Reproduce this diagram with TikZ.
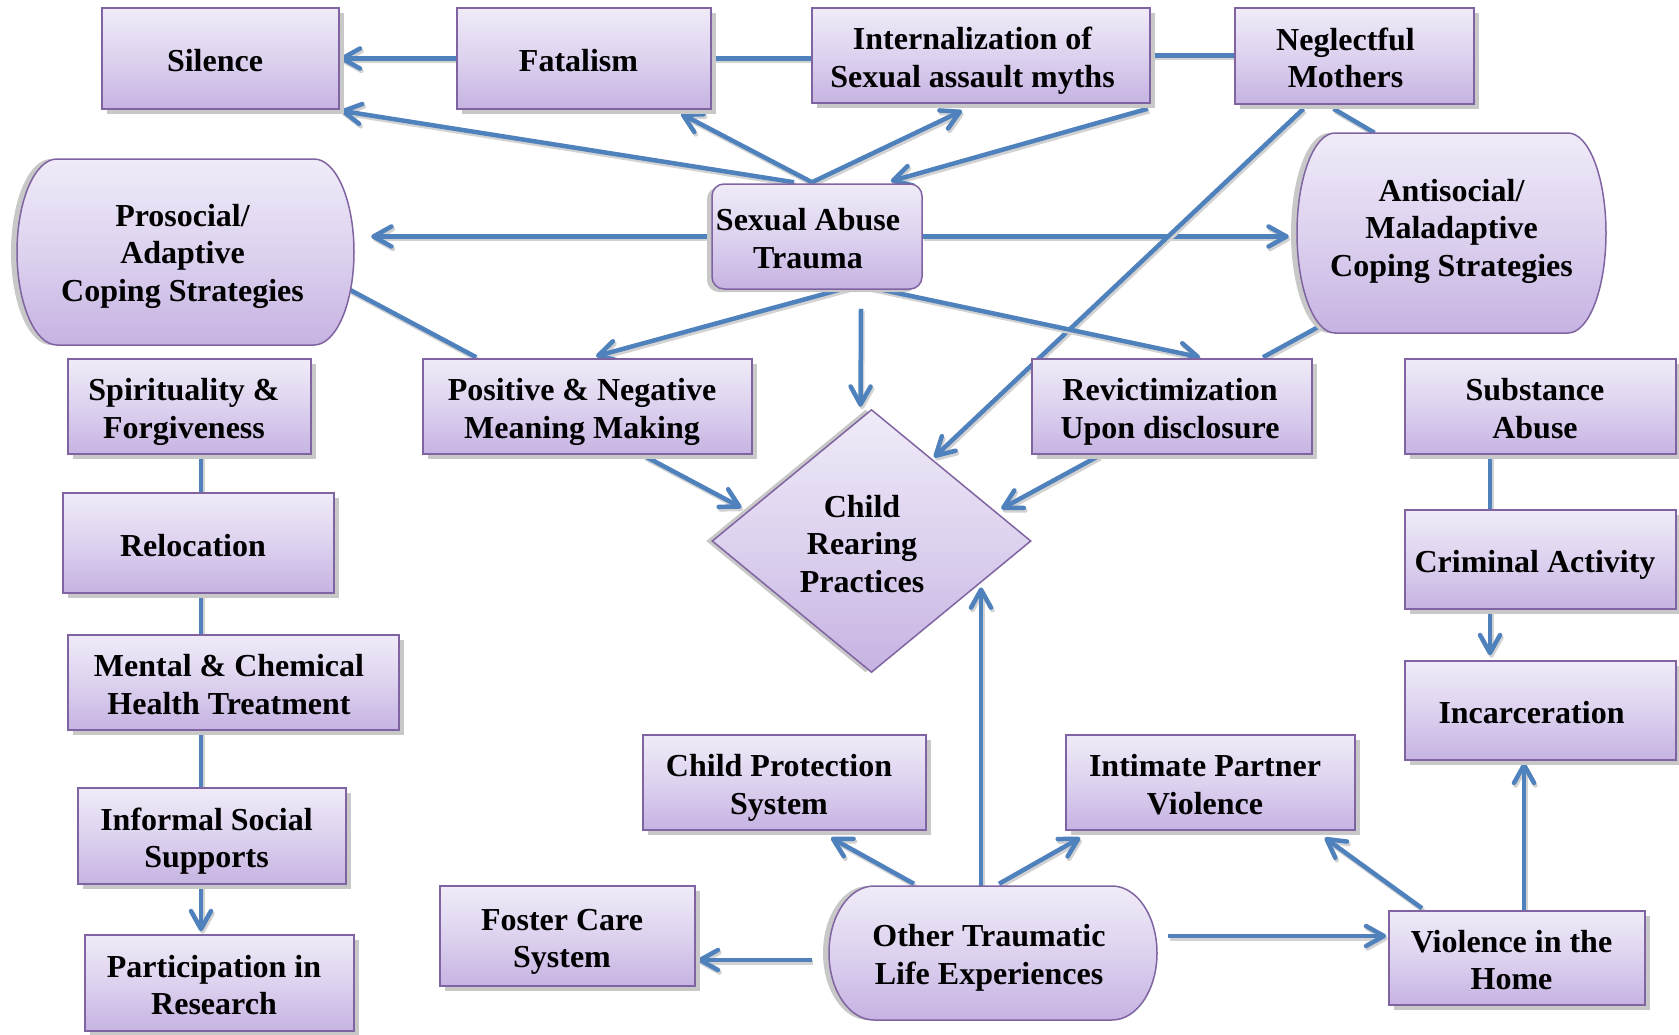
\documentclass[tikz,border=0pt]{standalone}
\usepackage{fontspec}
\setmainfont{Liberation Serif}
\usetikzlibrary{arrows.meta,shapes.geometric,shadows,calc}

\definecolor{arrowblue}{HTML}{4F81BD}
\definecolor{boxborder}{HTML}{8064A2}
\definecolor{boxtop}{HTML}{F0EBF8}
\definecolor{boxmid}{HTML}{DDD2EF}
\definecolor{boxbot}{HTML}{C6B3E2}
\definecolor{shadowgray}{HTML}{C8C8C8}
\definecolor{lineshadow}{HTML}{D2D2D2}

\pgfdeclarelayer{bg}
\pgfdeclarelayer{wires}
\pgfsetlayers{bg,wires,main}

\tikzset{
  boxtext/.style={font=\bfseries\fontsize{32}{37.5}\selectfont, align=center, text=black},
  lavender/.style={draw=boxborder, line width=1.5pt, top color=boxtop, bottom color=boxbot, middle color=boxmid},
  box/.style={lavender, boxtext, rectangle, inner sep=3pt,
    general shadow={fill=shadowgray, shadow xshift=5pt, shadow yshift=-5pt}},
  wire/.style={line width=4.5pt, draw=arrowblue,
    preaction={draw=lineshadow, line width=4.5pt, transform canvas={shift={(1.5pt,-2.5pt)}}}},
  flow/.style={wire, -{Straight Barb[length=18pt,width=20pt,round]}}
}

% centred lines with extra room on the right, lowered a little inside the box
\newcommand{\bx}[2][11pt]{\raisebox{-5.5pt}[\height][\depth]{\begin{tabular}{@{}c@{\hspace{#1}}}#2\end{tabular}}}

% capsule with elliptic ends: name, x1, y1, x2, y2, end radius, text dx, text dy, text
\newcommand{\capsule}[9]{%
  \pgfmathsetmacro\capXa{#2+#6}%
  \pgfmathsetmacro\capXb{#4-#6}%
  \pgfmathsetmacro\capYm{(#3+#5)/2}%
  \pgfmathsetmacro\capXm{(#2+#4)/2}%
  \pgfmathsetmacro\capKx{0.5523*#6}%
  \pgfmathsetmacro\capXaK{\capXa-\capKx}%
  \pgfmathsetmacro\capXbK{\capXb+\capKx}%
  \pgfmathsetmacro\capYu{\capYm-0.5523*(#5-#3)/2}%
  \pgfmathsetmacro\capYd{\capYm+0.5523*(#5-#3)/2}%
  \pgfmathsetmacro\capW{#4-#2}%
  \pgfmathsetmacro\capH{#5-#3}%
  \pgfmathsetmacro\capTx{\capXm+#7}%
  \pgfmathsetmacro\capTy{\capYm+#8}%
  \fill[shadowgray, shift={(-6,0)}] (\capXa,#3) -- (\capXb,#3)
    .. controls (\capXbK,#3) and (#4,\capYu) .. (#4,\capYm)
    .. controls (#4,\capYd) and (\capXbK,#5) .. (\capXb,#5) -- (\capXa,#5)
    .. controls (\capXaK,#5) and (#2,\capYd) .. (#2,\capYm)
    .. controls (#2,\capYu) and (\capXaK,#3) .. (\capXa,#3) -- cycle;
  \path[lavender] (\capXa,#3) -- (\capXb,#3)
    .. controls (\capXbK,#3) and (#4,\capYu) .. (#4,\capYm)
    .. controls (#4,\capYd) and (\capXbK,#5) .. (\capXb,#5) -- (\capXa,#5)
    .. controls (\capXaK,#5) and (#2,\capYd) .. (#2,\capYm)
    .. controls (#2,\capYu) and (\capXaK,#3) .. (\capXa,#3) -- cycle;
  \node[minimum width=\capW pt, minimum height=\capH pt, inner sep=0pt] (#1) at (\capXm,\capYm) {};
  \node[boxtext] (#1text) at (\capTx,\capTy) {#9};
}

\begin{document}
\begin{tikzpicture}[x=1pt, y=-1pt]
\useasboundingbox (0,0) rectangle (1679,1034);
\begin{pgfonlayer}{bg}
  \fill[white] (0,0) rectangle (1679,1034);
\end{pgfonlayer}

% top row
\node[box, minimum width=237pt, minimum height=101pt] (sil) at (220.5,58.5) {\bx{Silence}};
\node[box, minimum width=254pt, minimum height=101pt] (fat) at (584,58.5) {\bx{Fatalism}};
\node[box, minimum width=338pt, minimum height=95pt] (int) at (981,55.5) {\bx[17pt]{Internalization of\\Sexual assault myths}};
\node[box, minimum width=239pt, minimum height=96pt] (neg) at (1354.5,56) {\bx[18pt]{Neglectful\\Mothers}};

% central trauma box
\node[lavender, boxtext, rectangle, rounded corners=12pt, inner sep=2pt,
      minimum width=210pt, minimum height=105pt,
      general shadow={fill=shadowgray, shadow xshift=-5pt, shadow yshift=-3pt}]
      (sat) at (817,236.5) {\bx[18pt]{Sexual Abuse\\Trauma}};

% coping strategies
\capsule{pro}{17}{159}{354}{345}{40}{-3}{4}{Prosocial/\\Adaptive\\Coping Strategies}
\capsule{anti}{1297}{133}{1606}{333}{38}{0}{-2}{Antisocial/\\Maladaptive\\Coping Strategies}

% second row
\node[box, minimum width=243pt, minimum height=95pt] (spi) at (189.5,406.5) {\bx{Spirituality \&\\Forgiveness}};
\node[box, minimum width=329pt, minimum height=95pt] (pos) at (587.5,406.5) {\bx{Positive \& Negative\\Meaning Making}};
\node[box, minimum width=280pt, minimum height=95pt] (rev) at (1172,406.5) {\bx[4pt]{Revictimization\\Upon disclosure}};
\node[box, minimum width=271pt, minimum height=95pt] (sub) at (1540.5,406.5) {\bx{Substance\\Abuse}};

% left column
\node[box, minimum width=271pt, minimum height=100pt] (rel) at (198.5,543) {\bx{Relocation}};
\node[box, minimum width=331pt, minimum height=95pt] (men) at (233.5,682.5) {\bx[9pt]{Mental \& Chemical\\Health Treatment}};
\node[box, minimum width=268pt, minimum height=96pt] (inf) at (212,836) {\bx{Informal Social\\Supports}};
\node[box, minimum width=269pt, minimum height=96pt] (par) at (219.5,983) {\bx{Participation in\\Research}};

% right column
\node[box, minimum width=271pt, minimum height=99pt] (cri) at (1540.5,559.5) {\bx{Criminal Activity}};
\node[box, minimum width=271pt, minimum height=99pt] (inc) at (1540.5,710.5) {\bx[18pt]{Incarceration}};

% child rearing practices
\node[lavender, diamond, minimum width=319pt, minimum height=263pt, inner sep=0pt,
      general shadow={fill=shadowgray, shadow xshift=-6pt, shadow yshift=0pt}]
      (crp) at (871.5,541) {};
\node[boxtext] (crptext) at (862,544) {Child\\Rearing\\Practices};

% bottom area
\node[box, minimum width=283pt, minimum height=95pt] (cps) at (784.5,782.5) {\bx{Child Protection\\System}};
\node[box, minimum width=289pt, minimum height=95pt] (ipv) at (1210.5,782.5) {\bx{Intimate Partner\\Violence}};
\node[box, minimum width=255pt, minimum height=100pt] (fos) at (567.5,936) {\bx{Foster Care\\System}};
\capsule{ot}{829}{886}{1157}{1020}{45}{-4}{5}{Other Traumatic\\Life Experiences}
\node[box, minimum width=256pt, minimum height=94pt] (vh) at (1517,958) {\bx{Violence in the\\Home}};

\coordinate (lc) at (201,0);
\coordinate (rc) at (1490,0);
\coordinate (rv) at (1524,0);

\begin{pgfonlayer}{wires}
  % top row chain
  \draw[flow] (fat.west) -- (sil.east);
  \draw[wire] (fat.east) -- (fat.east -| int.west);
  \draw[wire] (int.east) -- (int.east -| neg.west);

  % trauma box to the top row
  \draw[flow] ($(sat.north)+(-23,-1)$) -- ($(sil.south east)+(1,1)$);
  \draw[flow] ($(sat.north)+(-5,-1)$) -- ($(fat.south)+(97,4)$);
  \draw[flow] ($(sat.north)+(-5,-1)$) -- ($(int.south)+(-19,7)$);
  \draw[flow] ($(int.south east)+(-3,5)$) -- ($(sat.north east)+(-32,-2)$);

  % trauma box sideways
  \draw[flow] (sat.west) -- ($(sat.west -| pro.east)+(17,0)$);
  \draw[flow] (sat.east) -- ($(sat.east -| anti.west)+(-8,0)$);

  % neglectful mothers
  \draw[wire] ($(neg.south)+(-21,4)$) -- ($(anti.north)+(-77,0)$);
  \draw[flow] ($(neg.south)+(-51,4)$) -- ($(crp.north)!0.39!(crp.east)+(0,-3)$);

  % trauma box downward
  \draw[flow] ($(sat.south)+(41,-5)$) -- ($(pos.north)+(8.5,-2)$);
  \draw[flow] ($(sat.south)+(41,-5)$) -- ($(rev.north)+(28,-1)$);
  \draw[flow] ($(sat.south)+(44,19)$) -- ($(crp.north)+(-11,-2)$);

  % coping strategies to the second row
  \draw[wire] ($(pro.east)+(-4,38)$) -- ($(pos.north west)+(54,-1)$);
  \draw[wire] ($(anti.south)+(-124.5,-11)$) -- ($(rev.north)+(91,-1)$);

  % into child rearing practices
  \draw[flow] ($(pos.south)+(56.5,1)$) -- ($(crp.west)!0.2!(crp.north)+(-2,-7)$);
  \draw[flow] ($(rev.south)+(-73,1)$) -- ($(crp.east)!0.19!(crp.north)+(0,-7)$);

  % left column
  \draw[wire] (spi.south -| lc) -- (rel.north -| lc);
  \draw[wire] (rel.south -| lc) -- (men.north -| lc);
  \draw[wire] (men.south -| lc) -- (inf.north -| lc);
  \draw[flow] (inf.south -| lc) -- ($(par.north -| lc)+(0,-3)$);

  % right column
  \draw[wire] (sub.south -| rc) -- (cri.north -| rc);
  \draw[flow] (cri.south -| rc) -- ($(inc.north -| rc)+(0,-5)$);
  \draw[flow] (vh.north -| rv) -- ($(inc.south -| rv)+(0,2)$);
  \draw[flow] ($(vh.north)+(-95,-2)$) -- ($(ipv.south east)+(-31,7)$);

  % other traumatic life experiences
  \coordinate (ov) at ($(ot.east)+(11,-17)$);
  \draw[flow] (ov) -- ($(ov -| vh.west)+(-2,0)$);
  \coordinate (of) at ($(ot.west)+(-17,7)$);
  \draw[flow] (of) -- ($(of -| fos.east)+(2,0)$);
  \draw[flow] ($(ot.north)+(-79,-2)$) -- ($(cps.south)+(46.5,7)$);
  \draw[flow] ($(ot.north)+(6,-2)$) -- ($(ipv.south west)+(15,7)$);
  \coordinate (oc) at ($(ot.north)+(-12,0)$);
  \coordinate (ct) at ($(crp.east)!0.313!(crp.south)+(0,5)$);
  \draw[flow] (oc) -- (oc |- ct);
\end{pgfonlayer}
\end{tikzpicture}
\end{document}
